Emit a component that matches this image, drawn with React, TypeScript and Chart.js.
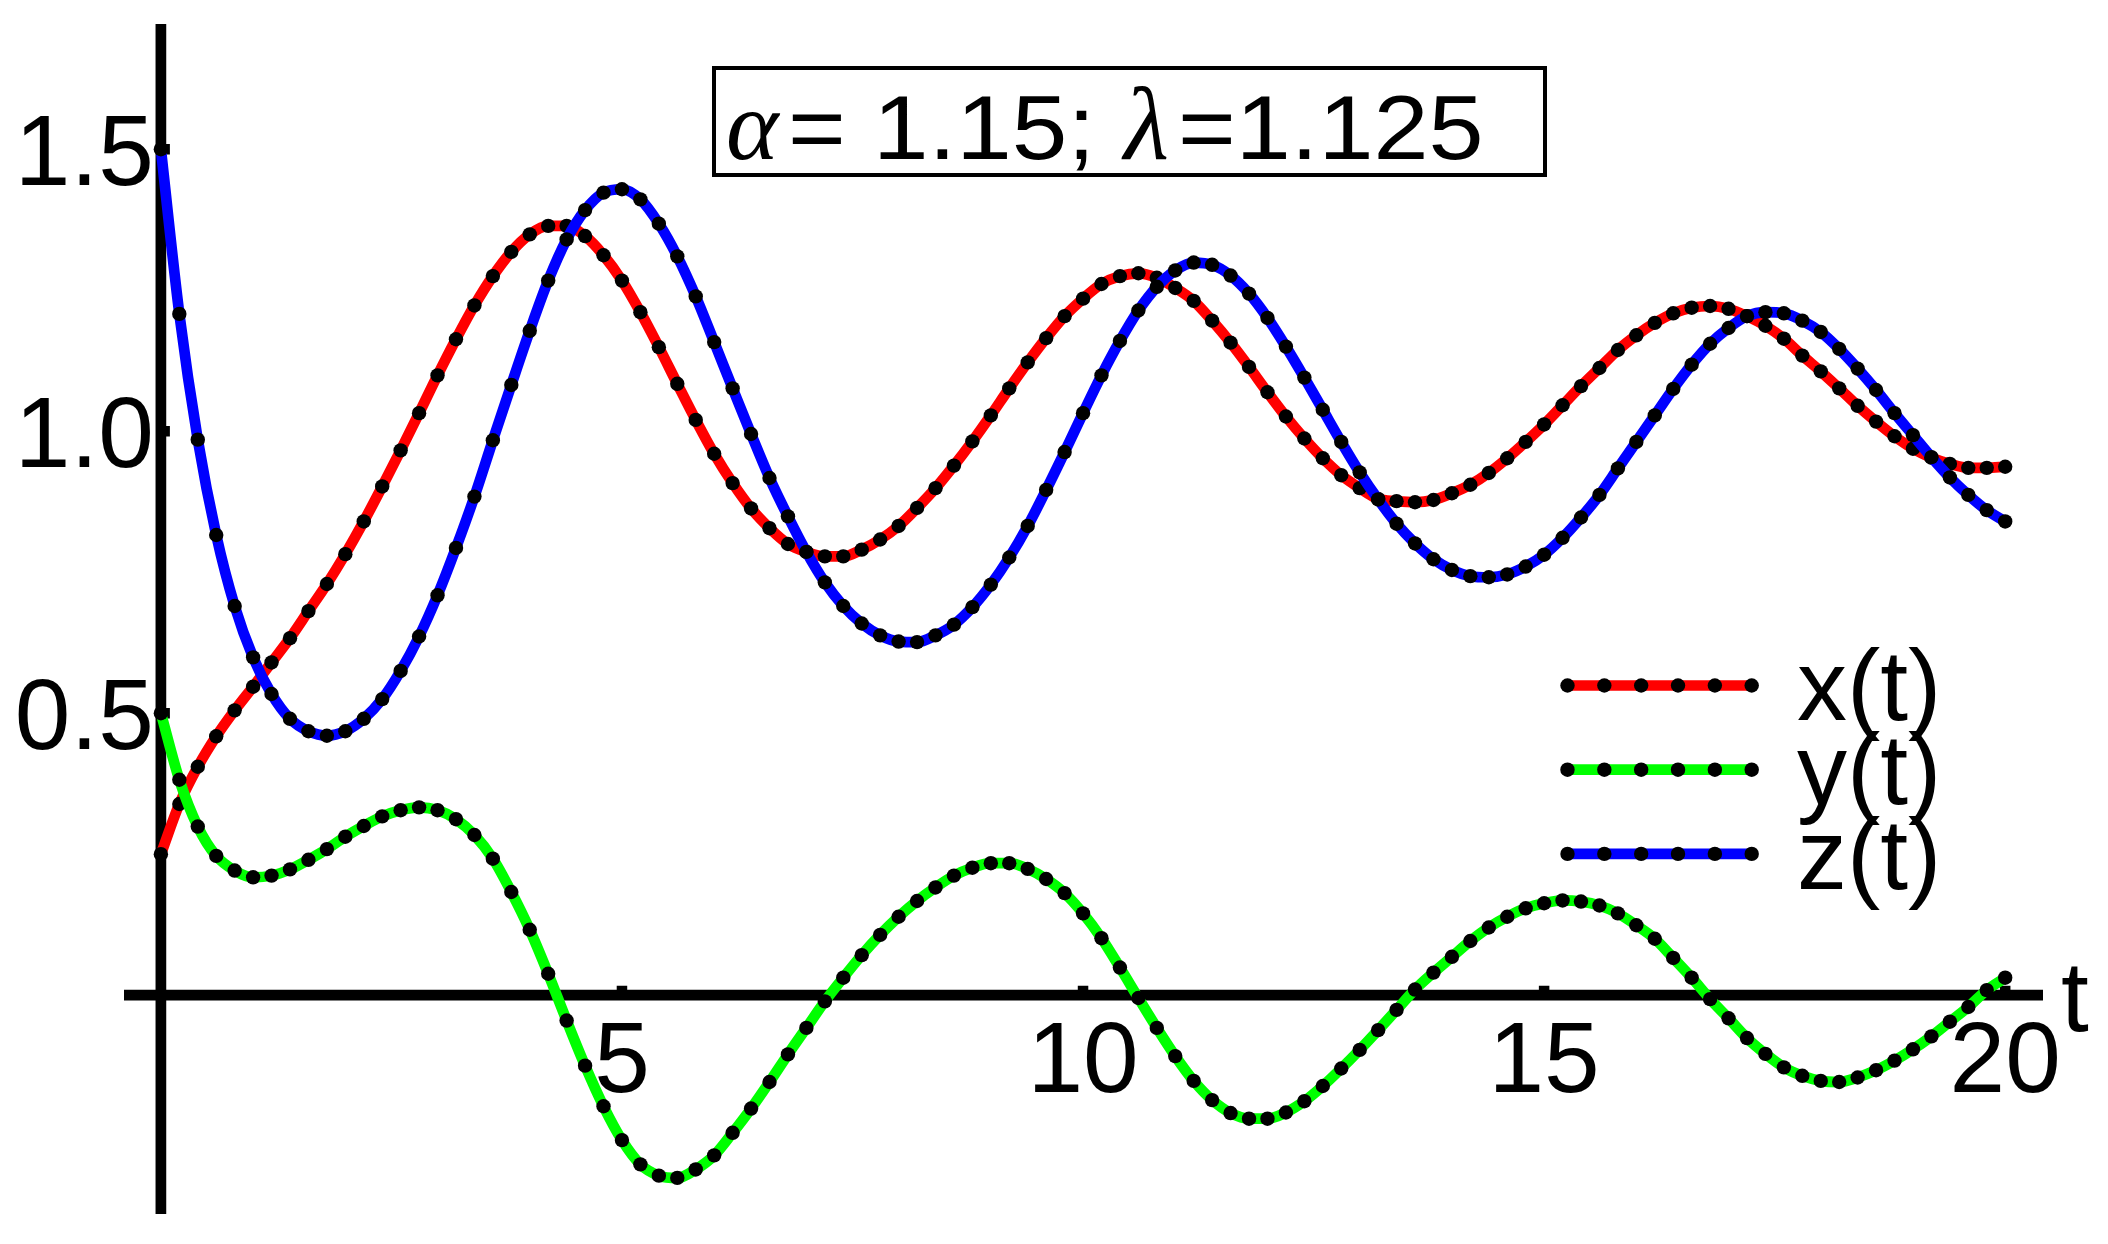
import React, { useEffect, useRef } from "react";
import { Chart, registerables } from "chart.js";

Chart.register(...registerables);

// ---- data ----
const tValues = [
  0, 0.2, 0.4, 0.6, 0.8, 1, 1.2, 1.4, 1.6, 1.8,
  2, 2.2, 2.4, 2.6, 2.8, 3, 3.2, 3.4, 3.6, 3.8,
  4, 4.2, 4.4, 4.6, 4.8, 5, 5.2, 5.4, 5.6, 5.8,
  6, 6.2, 6.4, 6.6, 6.8, 7, 7.2, 7.4, 7.6, 7.8,
  8, 8.2, 8.4, 8.6, 8.8, 9, 9.2, 9.4, 9.6, 9.8,
  10, 10.2, 10.4, 10.6, 10.8, 11, 11.2, 11.4, 11.6, 11.8,
  12, 12.2, 12.4, 12.6, 12.8, 13, 13.2, 13.4, 13.6, 13.8,
  14, 14.2, 14.4, 14.6, 14.8, 15, 15.2, 15.4, 15.6, 15.8,
  16, 16.2, 16.4, 16.6, 16.8, 17, 17.2, 17.4, 17.6, 17.8,
  18, 18.2, 18.4, 18.6, 18.8, 19, 19.2, 19.4, 19.6, 19.8,
  20,
];

const xSeries = [
  0.25, 0.339, 0.405, 0.459, 0.505, 0.547, 0.59, 0.633, 0.681, 0.729,
  0.782, 0.84, 0.902, 0.966, 1.032, 1.099, 1.163, 1.223, 1.275, 1.318,
  1.349, 1.364, 1.364, 1.346, 1.312, 1.267, 1.211, 1.149, 1.084, 1.02,
  0.96, 0.908, 0.863, 0.828, 0.8, 0.786, 0.778, 0.778, 0.79, 0.808,
  0.832, 0.864, 0.899, 0.939, 0.982, 1.028, 1.076, 1.122, 1.165, 1.204,
  1.235, 1.261, 1.275, 1.28, 1.272, 1.254, 1.231, 1.196, 1.157, 1.114,
  1.069, 1.026, 0.987, 0.952, 0.922, 0.899, 0.88, 0.876, 0.874, 0.878,
  0.89, 0.905, 0.926, 0.952, 0.981, 1.012, 1.046, 1.08, 1.112, 1.144,
  1.17, 1.192, 1.209, 1.219, 1.222, 1.217, 1.204, 1.187, 1.164, 1.134,
  1.106, 1.076, 1.045, 1.017, 0.991, 0.969, 0.953, 0.942, 0.935, 0.935,
  0.937,
];

const ySeries = [
  0.5, 0.382, 0.299, 0.247, 0.221, 0.209, 0.212, 0.223, 0.24, 0.259,
  0.281, 0.3, 0.317, 0.328, 0.333, 0.328, 0.312, 0.284, 0.242, 0.183,
  0.116, 0.038, -0.045, -0.125, -0.197, -0.257, -0.3, -0.32, -0.324, -0.309,
  -0.284, -0.244, -0.201, -0.154, -0.105, -0.058, -0.011, 0.031, 0.071, 0.107,
  0.139, 0.167, 0.191, 0.212, 0.226, 0.234, 0.234, 0.224, 0.206, 0.181,
  0.145, 0.101, 0.049, -0.005, -0.058, -0.108, -0.152, -0.186, -0.209, -0.219,
  -0.219, -0.208, -0.188, -0.161, -0.13, -0.097, -0.062, -0.026, 0.01, 0.04,
  0.068, 0.096, 0.12, 0.139, 0.154, 0.163, 0.168, 0.166, 0.159, 0.145,
  0.124, 0.1, 0.066, 0.031, -0.007, -0.041, -0.076, -0.104, -0.128, -0.143,
  -0.152, -0.154, -0.146, -0.133, -0.116, -0.096, -0.073, -0.047, -0.021, 0.009,
  0.031,
];

const zSeries = [
  1.5, 1.208, 0.985, 0.816, 0.69, 0.599, 0.534, 0.49, 0.468, 0.46,
  0.468, 0.49, 0.525, 0.575, 0.636, 0.709, 0.793, 0.884, 0.984, 1.082,
  1.178, 1.267, 1.34, 1.392, 1.423, 1.429, 1.411, 1.368, 1.31, 1.239,
  1.158, 1.076, 0.995, 0.917, 0.849, 0.786, 0.732, 0.69, 0.659, 0.638,
  0.627, 0.626, 0.638, 0.657, 0.688, 0.728, 0.776, 0.832, 0.896, 0.963,
  1.032, 1.099, 1.16, 1.214, 1.256, 1.285, 1.299, 1.295, 1.276, 1.244,
  1.201, 1.15, 1.095, 1.038, 0.981, 0.927, 0.879, 0.836, 0.801, 0.773,
  0.754, 0.743, 0.741, 0.746, 0.76, 0.781, 0.811, 0.847, 0.887, 0.934,
  0.981, 1.028, 1.075, 1.118, 1.155, 1.183, 1.204, 1.211, 1.209, 1.196,
  1.176, 1.146, 1.111, 1.073, 1.032, 0.993, 0.954, 0.918, 0.887, 0.86,
  0.84,
];

const seriesLabels = ["x(t)", "y(t)", "z(t)"];
const seriesColors = ["#ff0000", "#00ff00", "#0000ff"];
const xTickValues = [5, 10, 15, 20];
const xTickLabels = ["5", "10", "15", "20"];
const yTickValues = [0.5, 1.0, 1.5];
const yTickLabels = ["0.5", "1.0", "1.5"];
const xAxisTitle = "t";

const SANS = "'Liberation Sans', Arial, sans-serif";
const SERIF = "'Liberation Serif', 'Times New Roman', serif";

const LINE_W = 10.7;
const DOT_R = 7.2;

const decorPlugin = {
  id: "decor",
  beforeDatasetsDraw(chart: any) {
    const { ctx, chartArea, scales } = chart;
    const xs = scales.x;
    const ys = scales.y;
    const x0 = xs.getPixelForValue(0);
    const y0 = ys.getPixelForValue(0);
    ctx.save();
    ctx.strokeStyle = "#000";
    ctx.lineCap = "butt";
    ctx.lineWidth = 10.7;
    ctx.beginPath();
    ctx.moveTo(chartArea.left, y0);
    ctx.lineTo(chartArea.right, y0);
    ctx.stroke();
    ctx.beginPath();
    ctx.moveTo(x0, chartArea.top);
    ctx.lineTo(x0, chartArea.bottom);
    ctx.stroke();
    // tick marks (short stubs)
    ctx.lineWidth = 10.5;
    ctx.beginPath();
    xTickValues.forEach((v) => {
      const px = xs.getPixelForValue(v);
      ctx.moveTo(px, y0);
      ctx.lineTo(px, y0 - 9.5);
    });
    yTickValues.forEach((v) => {
      const py = ys.getPixelForValue(v);
      ctx.moveTo(x0, py);
      ctx.lineTo(x0 + 9, py);
    });
    ctx.stroke();
    // tick labels
    ctx.fillStyle = "#000";
    ctx.font = `100px ${SANS}`;
    ctx.textBaseline = "alphabetic";
    ctx.textAlign = "center";
    xTickValues.forEach((v, i) => {
      ctx.fillText(xTickLabels[i], xs.getPixelForValue(v), y0 + 97);
    });
    ctx.textAlign = "right";
    yTickValues.forEach((v, i) => {
      ctx.fillText(yTickLabels[i], x0 - 7, ys.getPixelForValue(v) + 36);
    });
    // axis title
    ctx.textAlign = "left";
    ctx.fillText(xAxisTitle, chartArea.right + 18, y0 + 36);
    ctx.restore();
  },
  afterDatasetsDraw(chart: any) {
    const { ctx } = chart;
    ctx.save();
    // legend
    const lx0 = 1567.5;
    const lx1 = 1751.7;
    const ly0 = 685.5;
    const lstep = 84.2;
    for (let i = 0; i < seriesLabels.length; i++) {
      const ly = ly0 + i * lstep;
      ctx.strokeStyle = seriesColors[i];
      ctx.lineWidth = LINE_W;
      ctx.beginPath();
      ctx.moveTo(lx0, ly);
      ctx.lineTo(lx1, ly);
      ctx.stroke();
      ctx.fillStyle = "#000";
      for (let k = 0; k < 6; k++) {
        const px = lx0 + ((lx1 - lx0) * k) / 5;
        ctx.beginPath();
        ctx.arc(px, ly, DOT_R, 0, Math.PI * 2);
        ctx.fill();
      }
      ctx.font = `100px ${SANS}`;
      ctx.textAlign = "left";
      ctx.textBaseline = "alphabetic";
      ctx.fillText(seriesLabels[i], 1797, ly + 34.7);
    }
    // title box
    ctx.strokeStyle = "#000";
    ctx.lineWidth = 4;
    ctx.strokeRect(714, 68, 831, 107);
    ctx.fillStyle = "#000";
    ctx.textAlign = "left";
    ctx.textBaseline = "alphabetic";
    const base = 159;
    const drawScaled = (txt: string, x: number, sx: number) => {
      ctx.save();
      ctx.translate(x, base);
      ctx.scale(sx, 1);
      ctx.fillText(txt, 0, 0);
      ctx.restore();
    };
    ctx.font = `italic 100px ${SERIF}`;
    ctx.fillText("\u03b1", 726, base);
    ctx.font = `90px ${SANS}`;
    drawScaled("=", 788, 1.1);
    drawScaled("1.15;", 873, 1.11);
    ctx.font = `italic 104px ${SERIF}`;
    ctx.fillText("\u03bb", 1124, base);
    ctx.font = `90px ${SANS}`;
    drawScaled("=1.125", 1178, 1.1);
    ctx.restore();
  },
};

export default function App() {
  const canvasRef = useRef<HTMLCanvasElement | null>(null);

  useEffect(() => {
    document.body.style.margin = "0";
    const canvas = canvasRef.current;
    if (!canvas) return;
    const mk = (arr: number[]) => tValues.map((t, i) => ({ x: t, y: arr[i] }));
    const all = [xSeries, ySeries, zSeries];
    const chart = new Chart(canvas, {
      type: "line",
      data: {
        datasets: all.map((arr, i) => ({
          label: seriesLabels[i],
          data: mk(arr),
          borderColor: seriesColors[i],
          backgroundColor: "#000",
          borderWidth: LINE_W,
          pointRadius: DOT_R,
          pointBackgroundColor: "#000",
          pointBorderWidth: 0,
          pointBorderColor: "#000",
          cubicInterpolationMode: "monotone" as const,
          fill: false,
          order: 3 - i,
          clip: false as any,
        })),
      },
      options: {
        responsive: false,
        animation: false,
        devicePixelRatio: 1,
        layout: { padding: { left: 124, right: 65, top: 24, bottom: 30 } },
        scales: {
          x: { type: "linear", min: -0.4, max: 20.41, display: false },
          y: { type: "linear", min: -0.388, max: 1.722, display: false },
        },
        plugins: {
          legend: { display: false },
          tooltip: { enabled: false },
        },
        events: [],
      },
      plugins: [decorPlugin],
    });
    return () => chart.destroy();
  }, []);

  return (
    <canvas
      ref={canvasRef}
      width={2108}
      height={1244}
      style={{ display: "block", width: "2108px", height: "1244px", background: "#fff" }}
    />
  );
}
